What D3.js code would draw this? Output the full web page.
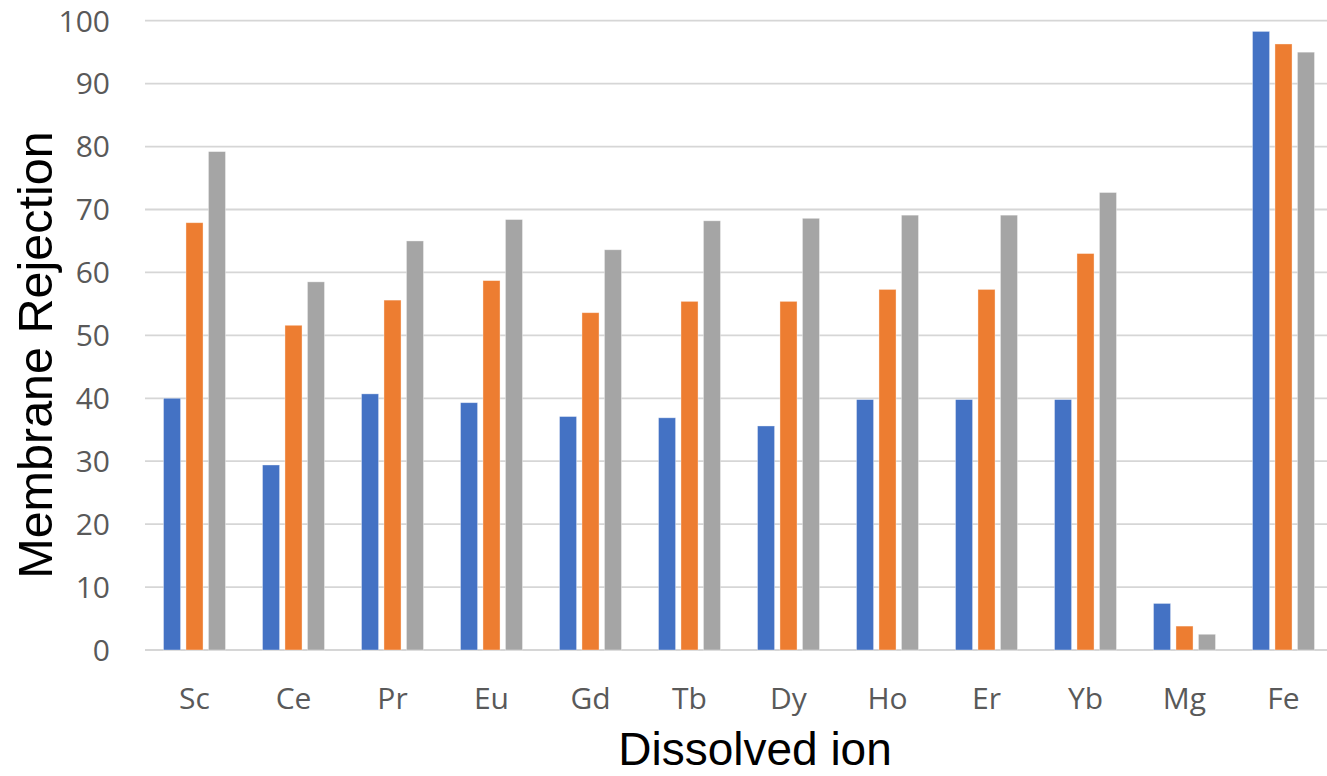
<!DOCTYPE html>
<html>
<head>
<meta charset="utf-8">
<script src="https://cdn.jsdelivr.net/npm/d3@7"></script>
<style>
  html, body { margin: 0; padding: 0; background: #ffffff; }
  svg { display: block; }
</style>
</head>
<body>
<svg id="chart" width="1327" height="776"></svg>
<script>
// Dissolved ions on the x axis
const ions = ["Sc", "Ce", "Pr", "Eu", "Gd", "Tb", "Dy", "Ho", "Er", "Yb", "Mg", "Fe"];

// Membrane rejection (%) for each of the three series
const seriesNames = ["s1", "s2", "s3"];
const series1 = [40.0, 29.4, 40.7, 39.3, 37.1, 36.9, 35.6, 39.8, 39.8, 39.8, 7.4, 98.3];
const series2 = [67.9, 51.6, 55.6, 58.7, 53.6, 55.4, 55.4, 57.3, 57.3, 63.0, 3.8, 96.3];
const series3 = [79.2, 58.5, 65.0, 68.4, 63.6, 68.2, 68.6, 69.1, 69.1, 72.7, 2.5, 95.0];
const seriesColors = ["#4472C4", "#ED7D31", "#A5A5A5"];

const yTicks = [0, 10, 20, 30, 40, 50, 60, 70, 80, 90, 100];

const svg = d3.select("#chart");
const W = 1327, H = 776;
const plot = { left: 145, right: 1333, top: 20.7, bottom: 650 };

const x0 = d3.scaleBand().domain(ions).range([plot.left, plot.right]).padding(0);
const x1 = d3.scaleBand().domain(seriesNames).range([-31, 31]).paddingInner(0.24);
const y = d3.scaleLinear().domain([0, 100]).range([plot.bottom, plot.top]);

// Horizontal gridlines, including the baseline at 0
svg.append("g")
  .selectAll("line")
  .data(yTicks)
  .join("line")
  .attr("x1", plot.left)
  .attr("x2", W)
  .attr("y1", d => y(d))
  .attr("y2", d => y(d))
  .attr("stroke", "#D6D6D6")
  .attr("stroke-width", 1.8);

// Y axis tick labels
svg.append("g")
  .selectAll("text")
  .data(yTicks)
  .join("text")
  .attr("x", 110)
  .attr("y", d => y(d))
  .attr("dy", "0.36em")
  .attr("text-anchor", "end")
  .attr("font-family", "'Open Sans', sans-serif")
  .attr("font-size", 30)
  .attr("fill", "#595959")
  .text(d => d);

// Grouped bars
const allSeries = [series1, series2, series3];
const rows = ions.map((ion, i) => ({ ion, values: allSeries.map((s, k) => ({ key: seriesNames[k], v: s[i], color: seriesColors[k] })) }));

const groups = svg.append("g")
  .selectAll("g")
  .data(rows)
  .join("g")
  .attr("transform", d => `translate(${x0(d.ion) + x0.bandwidth() / 2},0)`);

groups.selectAll("rect")
  .data(d => d.values)
  .join("rect")
  .attr("x", d => x1(d.key))
  .attr("width", x1.bandwidth())
  .attr("y", d => y(d.v))
  .attr("height", d => y(0) - y(d.v))
  .attr("fill", d => d.color)
  .attr("stroke", "#ffffff")
  .attr("stroke-opacity", 0.45)
  .attr("stroke-width", 0.8);

// Category labels
svg.append("g")
  .selectAll("text")
  .data(ions)
  .join("text")
  .attr("x", d => x0(d) + x0.bandwidth() / 2)
  .attr("y", 709)
  .attr("text-anchor", "middle")
  .attr("font-family", "'Open Sans', sans-serif")
  .attr("font-size", 30)
  .attr("fill", "#595959")
  .text(d => d);

// Axis titles
svg.append("text")
  .attr("x", 755)
  .attr("y", 765)
  .attr("text-anchor", "middle")
  .attr("font-family", "'Liberation Sans', Arial, sans-serif")
  .attr("font-size", 46)
  .attr("fill", "#000000")
  .text("Dissolved ion");

svg.append("text")
  .attr("transform", "translate(52,355) rotate(-90)")
  .attr("text-anchor", "middle")
  .attr("font-family", "'Liberation Sans', Arial, sans-serif")
  .attr("font-size", 48.5)
  .attr("fill", "#000000")
  .text("Membrane Rejection");
</script>
</body>
</html>
